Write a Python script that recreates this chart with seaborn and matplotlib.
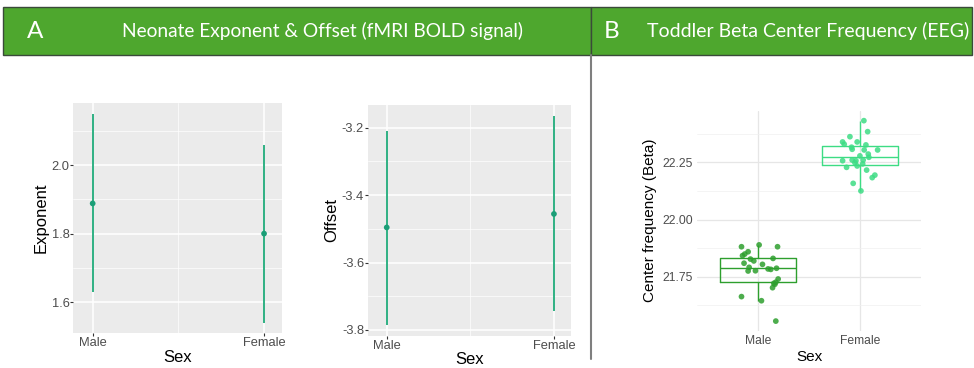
import matplotlib
matplotlib.use("Agg")
import matplotlib.pyplot as plt
from matplotlib.patches import Rectangle
from matplotlib.lines import Line2D
from matplotlib.ticker import FixedLocator
import seaborn as sns
import numpy as np
import pandas as pd

# ---------------- data ----------------
sex_labels = ["Male", "Female"]

# Panel A: neonate exponent & offset (point estimate with interval)
exponent_mid = [1.888, 1.800]
exponent_lo = [1.630, 1.539]
exponent_hi = [2.148, 2.058]

offset_mid = [-3.496, -3.456]
offset_lo = [-3.785, -3.743]
offset_hi = [-3.209, -3.167]

# Panel B: toddler beta center frequency (individual points)
male_cf = [21.881, 21.889, 21.881, 21.859, 21.849, 21.842, 21.827, 21.819,
           21.830, 21.809, 21.804, 21.791, 21.784, 21.782, 21.787, 21.775,
           21.776, 21.740, 21.726, 21.721, 21.702, 21.663, 21.645, 21.556,
           21.717]
male_jitter = [-0.163, 0.010, 0.191, -0.098, -0.131, -0.153, -0.075, -0.042,
               0.147, -0.138, 0.043, -0.088, 0.098, 0.125, 0.181, -0.098,
               -0.026, 0.197, 0.174, 0.154, 0.142, -0.163, 0.033, 0.174,
               0.165]
female_cf = [22.432, 22.384, 22.362, 22.339, 22.329, 22.339, 22.326, 22.316,
             22.307, 22.304, 22.304, 22.286, 22.278, 22.272, 22.257, 22.260,
             22.257, 22.260, 22.248, 22.243, 22.228, 22.234, 22.216, 22.194,
             22.183, 22.158, 22.125]
female_jitter = [0.039, 0.076, -0.098, -0.170, -0.154, -0.027, 0.059, -0.082,
                 -0.076, 0.042, 0.174, 0.082, 0.0, 0.088, -0.170, -0.076,
                 -0.039, 0.032, -0.049, 0.027, -0.131, -0.027, 0.066, 0.147,
                 0.121, -0.066, 0.010]

# ---------------- styling ----------------
sns.set_theme(style="white")
plt.rcParams["font.family"] = ["Liberation Sans", "DejaVu Sans"]

W, H = 974, 368
fig = plt.figure(figsize=(W / 100, H / 100), dpi=100)
fig.patch.set_facecolor("white")


def rect(x0, y0, x1, y1):
    return [x0 / W, 1 - y1 / H, (x1 - x0) / W, (y1 - y0) / H]


HEADER_GREEN = "#4ea72e"
TEAL = "#1b9e77"
TEAL_LINE = "#2fb083"
MALE_C = "#2e9f2e"
FEMALE_C = "#3ddc84"

# ---------------- headers ----------------
for (x0, x1) in [(3, 591), (591, 972)]:
    fig.patches.append(Rectangle((x0 / W, 1 - 55 / H), (x1 - x0) / W, 48 / H,
                                 transform=fig.transFigure, facecolor=HEADER_GREEN,
                                 edgecolor="#3a4a3a", linewidth=1.0, zorder=0))
hfont = ["Lato", "DejaVu Sans"]
fig.text(35 / W, 1 - 31 / H, "A", color="white", fontsize=17.5, family=hfont,
         ha="center", va="center")
fig.text(323 / W, 1 - 31 / H, "Neonate Exponent & Offset (fMRI BOLD signal)",
         color="white", fontsize=13.8, family=hfont, ha="center", va="center")
fig.text(612 / W, 1 - 31 / H, "B", color="white", fontsize=17.5, family=hfont,
         ha="center", va="center")
fig.text(808 / W, 1 - 31 / H, "Toddler Beta Center Frequency (EEG)",
         color="white", fontsize=14, family=hfont, ha="center", va="center")

# divider
fig.add_artist(Line2D([591 / W, 591 / W], [1 - 55 / H, 1 - 359 / H],
                      transform=fig.transFigure, color="#7f7f7f", linewidth=1.5))


# ---------------- panel A ----------------
def gg_panel(ax, mids, los, his, ylabel, ylim, xlim, major, minor, fmt):
    ax.set_facecolor("#EBEBEB")
    for s in ax.spines.values():
        s.set_visible(False)
    pos = np.arange(len(sex_labels))
    df = pd.DataFrame({"pos": pos, "mid": mids, "lo": los, "hi": his})
    ax.vlines(df["pos"], df["lo"], df["hi"], color=TEAL_LINE, linewidth=1.4, zorder=3)
    sns.scatterplot(data=df, x="pos", y="mid", ax=ax, color=TEAL, s=17,
                    edgecolor="none", zorder=4, legend=False)
    ax.set_ylim(*ylim)
    ax.set_xlim(*xlim)
    ax.yaxis.set_major_locator(FixedLocator(major))
    ax.yaxis.set_minor_locator(FixedLocator(minor))
    ax.set_yticklabels([fmt.format(v) for v in major])
    ax.xaxis.set_major_locator(FixedLocator(pos))
    ax.xaxis.set_minor_locator(FixedLocator([0.5]))
    ax.set_xticklabels(sex_labels)
    ax.grid(True, which="major", color="white", linewidth=1.1)
    ax.grid(True, which="minor", color="white", linewidth=0.5)
    ax.set_axisbelow(True)
    ax.tick_params(axis="both", which="major", length=2, width=0.8, color="#333333",
                   labelsize=9.3, labelcolor="#4d4d4d", pad=0.8, bottom=True, left=True)
    ax.tick_params(axis="both", which="minor", length=0)
    ax.set_xlabel("Sex", fontsize=12, color="black", labelpad=0.5)
    ax.set_ylabel(ylabel, fontsize=12, color="black", labelpad=2)


ax1 = fig.add_axes(rect(73.3, 103, 281.7, 333))
gg_panel(ax1, exponent_mid, exponent_lo, exponent_hi, "Exponent",
         (1.51, 2.181), (-0.113, 1.103), [1.6, 1.8, 2.0], [1.7, 1.9, 2.1], "{:.1f}")

ax2 = fig.add_axes(rect(368, 105, 571, 335.7))
gg_panel(ax2, offset_mid, offset_lo, offset_hi, "Offset",
         (-3.817, -3.133), (-0.112, 1.102), [-3.8, -3.6, -3.4, -3.2],
         [-3.7, -3.5, -3.3], "{:.1f}")

# ---------------- panel B ----------------
ax3 = fig.add_axes(rect(697, 110.6, 921, 330.7))
dfb = pd.DataFrame({
    "Sex": ["Male"] * len(male_cf) + ["Female"] * len(female_cf),
    "cf": male_cf + female_cf,
    "jit": male_jitter + female_jitter,
})
dfb["xpos"] = dfb["Sex"].map({"Male": 0, "Female": 1}) + dfb["jit"]
pal = {"Male": MALE_C, "Female": FEMALE_C}

sns.boxplot(data=dfb, x="Sex", y="cf", hue="Sex", order=sex_labels, hue_order=sex_labels,
            palette=pal, fill=False, width=0.75, showfliers=False, showcaps=False,
            linewidth=1.0, legend=False, ax=ax3, zorder=3)
sns.scatterplot(data=dfb, x="xpos", y="cf", hue="Sex", palette=pal, s=17, alpha=0.85,
                edgecolor="none", legend=False, ax=ax3, zorder=4)
ax3.set_xlim(-0.6, 1.6)
ax3.set_ylim(21.514, 22.476)
ax3.set_facecolor("white")
for s in ax3.spines.values():
    s.set_visible(False)
ax3.xaxis.set_major_locator(FixedLocator([0, 1]))
ax3.set_xticklabels(sex_labels)
ax3.yaxis.set_major_locator(FixedLocator([21.75, 22.0, 22.25]))
ax3.yaxis.set_minor_locator(FixedLocator([21.625, 21.875, 22.125, 22.375]))
ax3.set_yticklabels(["21.75", "22.00", "22.25"])
ax3.grid(True, which="major", color="#e6e6e6", linewidth=0.9)
ax3.grid(True, which="minor", axis="y", color="#f0f0f0", linewidth=0.5)
ax3.set_axisbelow(True)
ax3.tick_params(axis="both", which="both", length=0, labelsize=8.7,
                labelcolor="#4d4d4d", pad=3)
ax3.set_xlabel("Sex", fontsize=11, color="black", labelpad=2)
ax3.set_ylabel("Center frequency (Beta)", fontsize=11, color="black", labelpad=4)

fig.savefig("out.png", dpi=100, facecolor="white")
